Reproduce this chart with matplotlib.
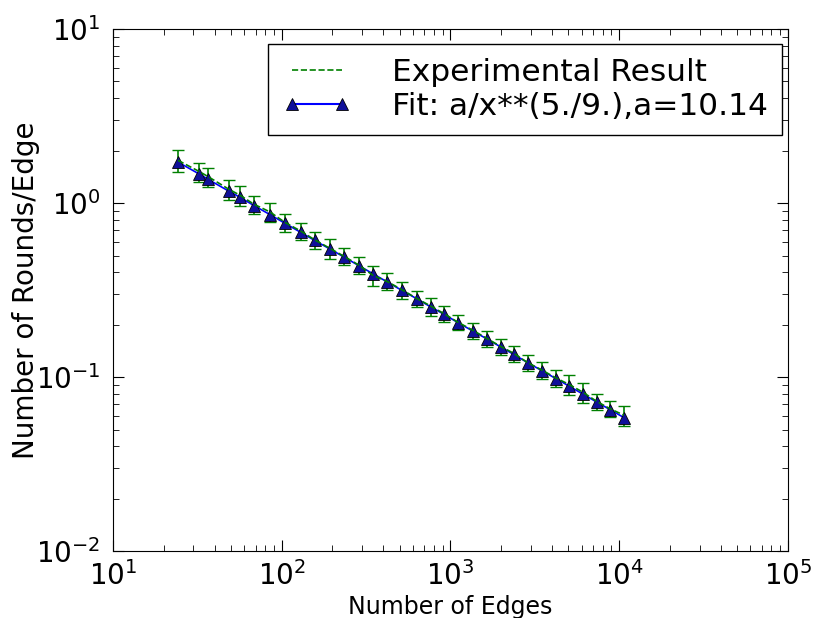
import matplotlib
matplotlib.use("Agg")
import matplotlib.pyplot as plt
from matplotlib.lines import Line2D
import numpy as np

# Number of edges for each run
edges = [24.3, 32.4, 36.6, 48.7, 56.6, 68.5, 85.2, 104.5, 130, 157, 193, 234,
         287, 347, 421, 516, 633, 766, 915, 1107, 1358, 1644, 1991, 2378,
         2878, 3484, 4217, 5037, 6097, 7381, 8813, 10670]

# Measured rounds per edge (mean) and error
exp_mean = [1.76, 1.52, 1.42, 1.20, 1.11, 0.985, 0.89, 0.775, 0.69, 0.615,
            0.55, 0.495, 0.44, 0.385, 0.355, 0.318, 0.283, 0.256, 0.232, 0.207,
            0.186, 0.167, 0.150, 0.137, 0.121, 0.110, 0.099, 0.091, 0.082,
            0.0725, 0.066, 0.0605]
exp_err = [0.26, 0.19, 0.18, 0.16, 0.15, 0.12, 0.11, 0.09, 0.08, 0.07,
           0.07, 0.055, 0.05, 0.05, 0.04, 0.035, 0.03, 0.03, 0.025, 0.02,
           0.02, 0.018, 0.016, 0.014, 0.013, 0.012, 0.011, 0.012, 0.011,
           0.008, 0.007, 0.008]

# Fit a/x**(5/9), a=10.14
fit_vals = [1.72, 1.47, 1.37, 1.17, 1.08, 0.968, 0.859, 0.766, 0.678, 0.610,
            0.545, 0.490, 0.437, 0.393, 0.353, 0.315, 0.282, 0.253, 0.230,
            0.206, 0.184, 0.166, 0.149, 0.135, 0.121, 0.109, 0.0982, 0.0890,
            0.0800, 0.0719, 0.0652, 0.0586]

exp_label = "Experimental Result"
fit_label = "Fit: a/x**(5./9.),a=10.14"

plt.rcParams['font.family'] = ['DejaVu Sans']
plt.rcParams['xtick.direction'] = 'in'
plt.rcParams['ytick.direction'] = 'in'
plt.rcParams['xtick.top'] = True
plt.rcParams['ytick.right'] = True

green = (0, 0.5, 0)
marker_face = '#10109a'

fig = plt.figure(figsize=(8.13, 6.18), dpi=100)
ax = fig.add_axes([0.139, 0.108, 0.830, 0.845])

ax.errorbar(edges, exp_mean, yerr=exp_err, fmt='--', color=green,
            capsize=4, elinewidth=1.2, linewidth=1.2)
ax.plot(edges, fit_vals, '-^', color='b', markerfacecolor=marker_face,
        markeredgecolor='k', markeredgewidth=0.6, markersize=9, linewidth=1.2)

ax.set_xscale('log')
ax.set_yscale('log')
ax.set_xlim(10, 1e5)
ax.set_ylim(1e-2, 10)

ax.tick_params(which='major', length=8, labelsize=20)
ax.tick_params(axis='x', which='major', pad=7)
ax.tick_params(axis='y', which='major', pad=9)
ax.tick_params(which='minor', length=4)
ax.set_xlabel("Number of Edges", fontsize=17, va='top')
ax.xaxis.set_label_coords(0.5, -0.084)
ax.set_ylabel("Number of Rounds/Edge", fontsize=20)
ax.yaxis.set_label_coords(-0.108, 0.5)

# legend: dashed line only for the experiment, line+markers for the fit
handles = [Line2D([], [], linestyle='--', color=green, linewidth=1.2),
           Line2D([], [], linestyle='-', marker='^', color='b',
                  markerfacecolor=marker_face, markeredgecolor='k',
                  markeredgewidth=0.6, markersize=9)]
ax.legend(handles, [exp_label, fit_label], loc='upper right',
          bbox_to_anchor=(0.991, 0.971), borderaxespad=0, fontsize=22.5,
          fancybox=False, edgecolor='k', framealpha=1, handlelength=2.2,
          handletextpad=1.3, borderpad=0.45, labelspacing=0.15, numpoints=2)

plt.savefig("out.png", dpi=100)
